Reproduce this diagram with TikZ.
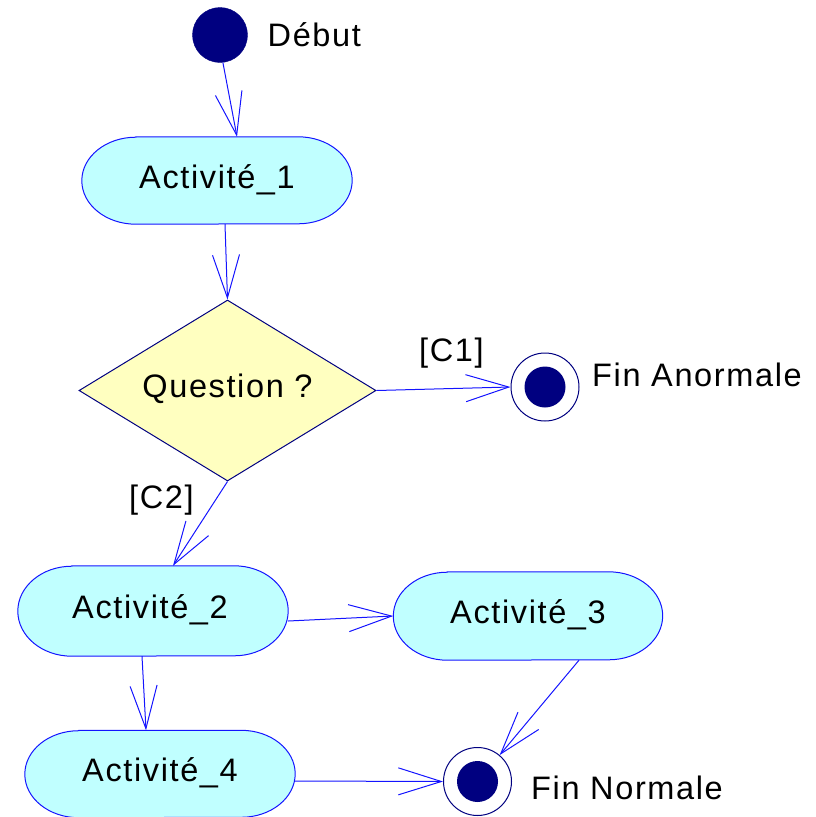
\documentclass[tikz,border=0pt]{standalone}
\usepackage{fontspec}
\setmainfont{Liberation Sans}[LetterSpace=5.0]
\usetikzlibrary{arrows.meta,shapes.geometric,backgrounds}

\definecolor{navyfill}{RGB}{0,0,128}
\definecolor{actfill}{RGB}{192,255,255}
\definecolor{decfill}{RGB}{255,255,192}
\definecolor{flowblue}{RGB}{20,20,255}

% outline of an activity: straight top and bottom, half-ellipse ends
\newcommand\stadium[2]{%
  \path[actoutline] ([xshift=54pt]#1.north west) -- ([xshift=-54pt]#1.north east)
    arc[start angle=90,end angle=-90,x radius=54pt,y radius=#2pt]
    -- ([xshift=54pt]#1.south west)
    arc[start angle=270,end angle=90,x radius=54pt,y radius=#2pt] -- cycle;}

\begin{document}
\begin{tikzpicture}[x=1pt,y=-1pt,
  every node/.style={font=\fontsize{32.5}{39}\selectfont, inner sep=0pt},
  activity/.style={rectangle, minimum width=270pt, text height=22pt, text depth=7pt},
  actoutline/.style={draw=flowblue, fill=actfill, line width=1pt},
  decision/.style={diamond, shape aspect=1.64, draw=navyfill, fill=decfill, line width=1pt,
    minimum width=297pt, minimum height=181pt, text height=22pt, text depth=8pt},
  initial/.style={circle, fill=navyfill, draw=navyfill, minimum size=55pt},
  finalring/.style={circle, draw=navyfill, fill=white, line width=1pt, minimum size=68pt},
  finaldot/.style={circle, fill=navyfill, minimum size=41pt},
  txt/.style={anchor=base west},
  flow/.style={draw=flowblue, line width=1pt,
    -{Straight Barb[length=43pt,width=27pt]}}]

\useasboundingbox (0,0) rectangle (816,817);

% start state
\node[initial] (start) at (220,35) {};
\node[txt] (debutlbl) at (267.5,46) {Début};

% activities and decision
\node[activity, minimum height=87pt] (a1) at (217,180.5) {Activité\_1};
\node[decision] (q) at (227.5,390.5) {Question~?};
\node[activity, minimum height=90pt] (a2) at (153,611) {\hspace*{-6pt}Activité\_2};
\node[activity, minimum height=88pt, minimum width=269pt] (a3) at (528,616) {Activité\_3};
\node[activity, minimum height=87pt] (a4) at (160,774) {Activité\_4};

\begin{scope}[on background layer]
  \stadium{a1}{43.5}
  \stadium{a2}{45}
  \stadium{a3}{44}
  \stadium{a4}{43.5}
\end{scope}

% final states
\node[finalring] (finA) at (545,387) {};
\node[finaldot] (finAdot) at (finA) {};
\node[txt] (finAlbl) at (592,386.7) {Fin Anormale};

\node[finalring] (finN) at (477.5,781.5) {};
\node[finaldot] (finNdot) at (finN) {};
\node[txt] (finNlbl) at (531,799) {Fin Normale};

% guards
\node[txt] (c1) at (419,361) {[C1]};
\node[txt] (c2) at (129,508) {[C2]};

% transitions
\draw[flow] (start.-84) -- ([xshift=20pt]a1.north);
\draw[flow] ([xshift=8pt]a1.south) -- (q.north);
\draw[flow] (q.east) -- (finA.west);
\draw[flow] (q.south) -- ([xshift=20pt]a2.north);
\draw[flow] ([yshift=-10pt]a2.east) -- (a3.west);
\draw[flow] ([xshift=-11pt]a2.south) -- ([xshift=-14pt]a4.north);
\draw[flow] ([yshift=-7pt]a4.east) -- (finN.west);
\draw[flow] ([xshift=51pt]a3.south) -- (finN.50);
\end{tikzpicture}
\end{document}
